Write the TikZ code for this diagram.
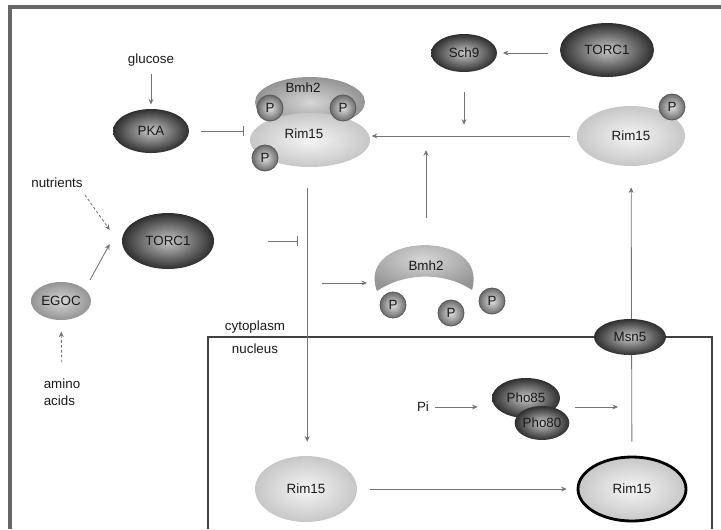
\documentclass[tikz,border=0pt]{standalone}
\usepackage{fontspec}
\setmainfont{Liberation Sans}
\usetikzlibrary{shapes.geometric,arrows.meta,backgrounds}
\tikzset{
  every node/.style={font=\fontsize{9.5}{12}\selectfont, text=black!90},
  sz/.style 2 args={minimum width=#1*0.025cm, minimum height=#2*0.025cm, inner sep=0pt},
  lnk/.style={draw=black!55, line width=0.6pt},
  act/.style={lnk, -{Stealth[length=4pt, width=3.5pt]}},
  inh/.style={lnk, -{Bar[width=7pt]}},
  dsh/.style={act, dash pattern=on 2pt off 1.5pt},
  kin/.style={ellipse, shading=radial, inner color=black!22, outer color=black!82},
  prot/.style={ellipse, shading=radial, inner color=black!4, outer color=black!22},
  adap/.style={ellipse, shading=radial, inner color=black!16, outer color=black!42},
  phos/.style={circle, draw=black!65, line width=0.6pt, shading=radial, inner color=black!12, outer color=black!58, sz={26}{26}},
}
\begin{document}
\begin{tikzpicture}[x=0.025cm, y=-0.025cm]
  \useasboundingbox (0,0) rectangle (721,529);
  % cytoplasm side
  \node (glc) at (151,60) {glucose};
  \node[kin, sz={76}{44}] (PKA) at (151,131) {PKA};
  \node[adap, sz={110}{50}] (bmhA) at (310,102) {};
  \node[prot, sz={120}{54}] (rimA) at (310,140) {};
  \node (bmhAt) at (303,88) {Bmh2};
  \node (rimAt) at (304,134) {Rim15};
  \node[phos] (pA1) at (270,108) {P};
  \node[phos] (pA2) at (343,108) {P};
  \node[phos] (pA3) at (265,158) {P};
  \node[kin, sz={66}{38}] (sch9) at (464,53) {Sch9};
  \node[kin, sz={94}{54}] (torT) at (607,50) {TORC1};
  \node[prot, sz={108}{60}] (rimP) at (631,136) {Rim15};
  \node[phos] (pP) at (672,107) {P};
  \node (nut) at (57,183) {nutrients};
  \node[kin, sz={92}{56}] (torL) at (168,241) {TORC1};
  \node[adap, sz={60}{38}] (egoc) at (61,301) {EGOC};
  \node[align=left] (aa) at (62,392) {amino\\acids};
  % free Bmh2
  \shade[inner color=black!16, outer color=black!42] (377,291) .. controls (355,232) and (490,228) .. (472,290)
    .. controls (445,272) and (405,272) .. (377,291) -- cycle;
  \node (bmhB) at (426,266) {Bmh2};
  \node[phos] (pB1) at (393,305) {P};
  \node[phos] (pB2) at (451,313) {P};
  \node[phos] (pB3) at (492,301) {P};
  \node (cyt) at (255,327) {cytoplasm};
  \node (nuc) at (255,349) {nucleus};
  % nucleus side
  \node[kin, sz={72}{36}] (msn) at (630,337) {Msn5};
  \node (pi) at (423,407) {Pi};
  \node[kin, sz={68}{40}] (p85) at (526,398) {Pho85};
  \node[kin, sz={50}{34}] (p80) at (542,423) {Pho80};
  \node[prot, sz={102}{66}] (rimN) at (306,489) {Rim15};
  \node[prot, sz={108}{64}, draw=black, line width=2pt] (rimB) at (632,489) {Rim15};
  \coordinate (vx) at (322,283);

  \begin{scope}[on background layer]
    \draw[black!60, line width=2.2pt] (10,529) |- (721,7);
    \draw[black!75, line width=0.9pt] (208,529) |- (712,337) -- (712,529);
    \draw[act, shorten <=2pt, shorten >=3pt] (glc) -- (PKA);
    \draw[inh, shorten <=8pt, shorten >=4pt] (PKA.east) -- (PKA.east -| rimA.west);
    \draw[act, shorten <=5pt, shorten >=1pt] (rimP.west) -- (rimP.west -| rimA.east);
    \draw[act, shorten <=14pt, shorten >=8pt] (sch9) -- (sch9 |- rimP);
    \draw[act, shorten <=8.5pt, shorten >=4pt] (torT.west |- sch9) -- (sch9);
    \draw[act, shorten <=27pt, shorten >=10pt] (bmhB) -- (bmhB |- rimP);
    \draw[act, shorten <=15pt, shorten >=10pt] ([xshift=-2]rimA.south) -- ([xshift=-2]rimA.south |- rimN.north);
    \draw[act] (vx) -- ++(45,0);
    \draw[inh, shorten <=38pt, shorten >=9pt] (torL) -- (torL -| rimA);
    \draw[dsh] ([shift={(28,12)}]nut.center) -- ([shift={(-12,-11)}]torL.west);
    \draw[act] ([shift={(29,-21)}]egoc.center) -- ([shift={(-12,3)}]torL.west);
    \draw[dsh, shorten <=8pt, shorten >=8pt] (aa.north) -- (egoc.south);
    \draw[act, shorten <=10pt, shorten >=15pt] (rimB) -- (rimP);
    \draw[act, shorten <=0.5pt, shorten >=10pt] (pi) -- (pi -| p85.west);
    \draw[act, shorten <=3.5pt, shorten >=8.5pt] (pi -| p80.east) -- (pi -| msn);
    \draw[act, shorten <=9pt, shorten >=7pt] (rimN) -- (rimB);
  \end{scope}
\end{tikzpicture}
\end{document}
